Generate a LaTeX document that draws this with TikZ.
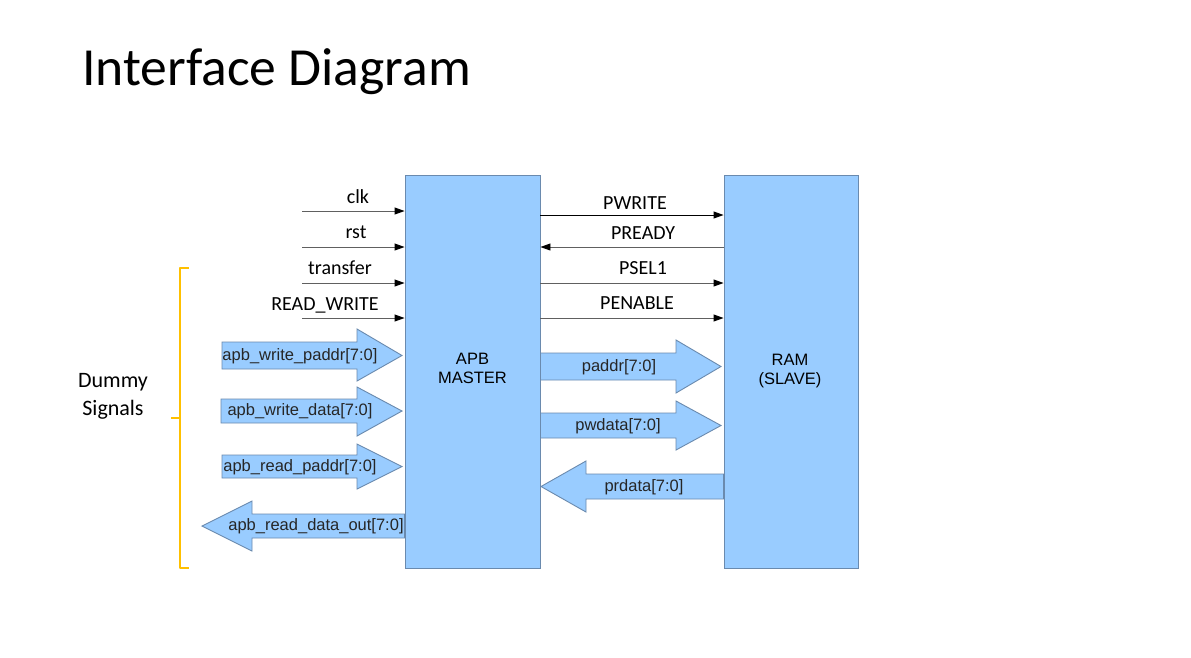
\documentclass[tikz,border=0pt]{standalone}
\usepackage{fontspec}
\setmainfont{Carlito}
\newfontfamily\arialf{Liberation Sans}
\usetikzlibrary{arrows.meta}
\definecolor{boxfill}{HTML}{99CCFF}
\definecolor{boxline}{HTML}{6A8AAE}
\definecolor{braceor}{HTML}{FFC000}
\definecolor{sigline}{HTML}{606060}
\tikzset{
  blk/.style={draw=boxline, fill=boxfill, line width=0.9pt, inner sep=0pt, align=center, font=\arialf\fontsize{16.5}{19}\selectfont},
  fat/.style={draw=boxline, fill=boxfill, line width=0.9pt},
  fatlbl/.style={font=\arialf\fontsize{16.5}{18}\selectfont, inner sep=0pt, text=black!85},
  sig/.style={draw=sigline, line width=0.9pt, -{Triangle[length=10pt,width=7pt,color=black]}},
  siglbl/.style={font=\fontsize{20}{22}\selectfont, inner sep=0pt, anchor=base},
}
\begin{document}
\begin{tikzpicture}[x=1pt,y=-1pt]
\useasboundingbox[fill=white] (0,0) rectangle (1191,657);
% title
\node[anchor=base west, inner sep=0pt, font=\fontsize{53.6}{60}\selectfont] (title) at (82,85) {Interface Diagram};
% blocks
\node[blk, minimum width=135pt, minimum height=393pt] (apb) at (472.5,371.5) {};
\node[blk, minimum width=134pt, minimum height=393pt] (ram) at (791,371.5) {};
\node[blk, draw=none, fill=none] (apblbl) at (472.5,368) {APB\\MASTER};
\node[blk, draw=none, fill=none] (ramlbl) at (790,371) {RAM\\(SLAVE)};
% left thin inputs
\coordinate (clkin) at (302,211);
\coordinate (rstin) at (302,247);
\coordinate (trin) at (302,283);
\coordinate (rwin) at (302,318);
\draw[sig] (clkin) -- (clkin -| apb.west);
\draw[sig] (rstin) -- (rstin -| apb.west);
\draw[sig] (trin) -- (trin -| apb.west);
\draw[sig] (rwin) -- (rwin -| apb.west);
\node[siglbl] (clkl) at (358,203) {clk};
\node[siglbl] (rstl) at (356,238) {rst};
\node[siglbl] (trl) at (340,274) {transfer};
\node[siglbl] (rwl) at (325,310) {READ\_WRITE};
% right thin signals
\coordinate (pw) at (apb.east |- 0,215);
\coordinate (pr) at (ram.west |- 0,247);
\coordinate (ps) at (apb.east |- 0,283);
\coordinate (pe) at (apb.east |- 0,318);
\draw[sig, draw=black] (pw) -- (pw -| ram.west);
\draw[sig] (pr) -- (pr -| apb.east);
\draw[sig] (ps) -- (ps -| ram.west);
\draw[sig] (pe) -- (pe -| ram.west);
\node[siglbl] (pwl) at (635,209) {PWRITE};
\node[siglbl] (prl) at (643,239) {PREADY};
\node[siglbl] (psl) at (643,274) {PSEL1};
\node[siglbl] (pel) at (637,309) {PENABLE};
% left fat arrows
\draw[fat] (222,342) -- (357,342) -- (357,329) -- (402,355.5) -- (357,381) -- (357,369) -- (222,369) -- cycle;
\node[fatlbl] (wpa) at (300,356) {apb\_write\_paddr[7:0]};
\draw[fat] (221,399) -- (357,399) -- (357,387) -- (402,411) -- (357,436) -- (357,423) -- (221,423) -- cycle;
\node[fatlbl] (wda) at (300,411.5) {apb\_write\_data[7:0]};
\draw[fat] (222,455) -- (357,455) -- (357,444) -- (402,466.5) -- (357,489) -- (357,478) -- (222,478) -- cycle;
\node[fatlbl] (rpa) at (300,467) {apb\_read\_paddr[7:0]};
\draw[fat] (apb.west |- 0,514) -- (252,514) -- (252,501) -- (202,526) -- (252,551) -- (252,538) -- (apb.west |- 0,538) -- cycle;
\node[fatlbl] (rdo) at (316,526.5) {apb\_read\_data\_out[7:0]};
% right fat arrows
\draw[fat] (apb.east |- 0,353) -- (676,353) -- (676,340) -- (721,366.5) -- (676,393) -- (676,380) -- (apb.east |- 0,380) -- cycle;
\node[fatlbl] (pad) at (619,367) {paddr[7:0]};
\draw[fat] (apb.east |- 0,413) -- (676,413) -- (676,401) -- (721,425.5) -- (676,450) -- (676,438) -- (apb.east |- 0,438) -- cycle;
\node[fatlbl] (pwd) at (618,426) {pwdata[7:0]};
\draw[fat] (ram.west |- 0,474) -- (586,474) -- (586,461) -- (541,486.5) -- (586,512) -- (586,499) -- (ram.west |- 0,499) -- cycle;
\node[fatlbl] (prd) at (644,487) {prdata[7:0]};
% brace
\draw[braceor, line width=2.2pt, line join=round] (189,268) -- (180,268) -- (180,568) -- (189,568);
\draw[braceor, line width=2.2pt] (180,418) -- (171,418);
\node[align=center, inner sep=0pt, font=\fontsize{22}{28}\selectfont] (dummy) at (113,396) {Dummy\\Signals};
\end{tikzpicture}
\end{document}
